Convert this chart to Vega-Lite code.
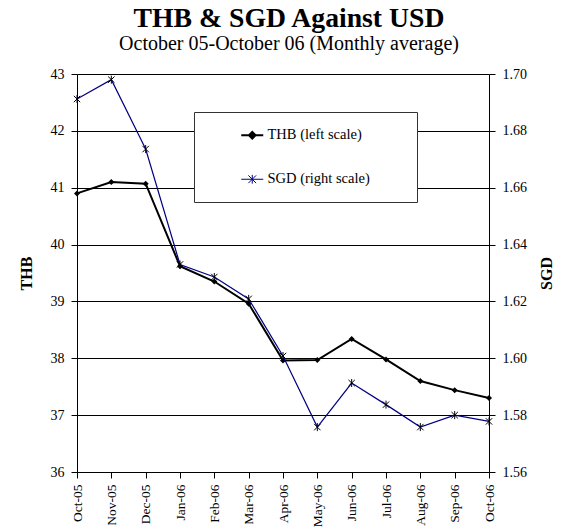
{
  "$schema": "https://vega.github.io/schema/vega-lite/v6.json",
  "autosize": {"type": "none"},
  "width": 412,
  "height": 398,
  "padding": {"left": 77, "top": 74, "right": 84, "bottom": 57},
  "background": "white",
  "title": {
    "text": "THB & SGD Against USD",
    "subtitle": "October  05-October  06 (Monthly average)",
    "font": "Liberation Serif",
    "fontSize": 27.7,
    "fontWeight": "bold",
    "color": "black",
    "subtitleFont": "Liberation Serif",
    "subtitleFontSize": 20,
    "subtitleColor": "black",
    "subtitlePadding": 1,
    "anchor": "middle",
    "dx": 6,
    "offset": 13.5
  },
  "config": {
    "view": {"stroke": null}
  },
  "data": {
    "values": [
      {"month": "Oct-05", "THB": 40.90, "SGD": 1.6912},
      {"month": "Nov-05", "THB": 41.10, "SGD": 1.6980},
      {"month": "Dec-05", "THB": 41.07, "SGD": 1.6736},
      {"month": "Jan-06", "THB": 39.62, "SGD": 1.6330},
      {"month": "Feb-06", "THB": 39.35, "SGD": 1.6286},
      {"month": "Mar-06", "THB": 38.96, "SGD": 1.6209},
      {"month": "Apr-06", "THB": 37.96, "SGD": 1.6008},
      {"month": "May-06", "THB": 37.97, "SGD": 1.5758},
      {"month": "Jun-06", "THB": 38.34, "SGD": 1.5913},
      {"month": "Jul-06", "THB": 37.98, "SGD": 1.5837},
      {"month": "Aug-06", "THB": 37.60, "SGD": 1.5758},
      {"month": "Sep-06", "THB": 37.44, "SGD": 1.5800},
      {"month": "Oct-06", "THB": 37.30, "SGD": 1.5778}
    ]
  },
  "encoding": {
    "x": {
      "field": "month",
      "type": "ordinal",
      "sort": null,
      "scale": {"type": "point", "padding": 0},
      "axis": {
        "title": null, "labelAngle": 270, "labelPadding": 6, "grid": false,
        "labelFont": "Liberation Serif", "labelFontSize": 13.5, "labelColor": "black",
        "domainColor": "black", "tickColor": "black", "tickSize": 6
      }
    }
  },
  "layer": [
    {
      "encoding": {
        "y": {
          "field": "THB",
          "type": "quantitative",
          "scale": {"domain": [36, 43], "nice": false, "zero": false},
          "axis": {
            "title": "THB", "values": [36, 37, 38, 39, 40, 41, 42, 43], "grid": true,
            "gridColor": "black", "gridOpacity": 1, "gridWidth": 1,
            "labelPadding": 7, "titlePadding": 16,
            "labelFont": "Liberation Serif", "labelFontSize": 14, "labelColor": "black",
            "titleFont": "Liberation Serif", "titleFontSize": 16, "titleFontWeight": "bold", "titleColor": "black",
            "domainColor": "black", "tickColor": "black", "tickSize": 6
          }
        }
      },
      "layer": [
        {
          "mark": {"type": "line", "strokeWidth": 2},
          "encoding": {
            "color": {
              "datum": "THB (left scale)",
              "type": "nominal",
              "scale": {"domain": ["THB (left scale)", "SGD (right scale)"], "range": ["black", "#000080"]},
              "legend": {
                "title": null,
                "orient": "none",
                "legendX": 117,
                "legendY": 38,
                "direction": "vertical",
                "fillColor": "white",
                "strokeColor": "#333333",
                "padding": 16,
                "symbolOffset": 35,
                "symbolSize": 484,
                "rowPadding": 28,
                "labelFont": "Liberation Serif",
                "labelFontSize": 14.5,
                "labelColor": "black",
                "labelOffset": 8,
                "labelLimit": 300,
                "encode": {
                  "symbols": {
                    "update": {
                      "shape": {"signal": "datum.value === 'THB (left scale)' ? 'M-1,0L1,0M0,-0.3L0.3,0L0,0.3L-0.3,0ZM13.1,0' : 'M-1,0L1,0M-0.35,-0.35L0.35,0.35M-0.35,0.35L0.35,-0.35M0,-0.4L0,0.4M13.1,0'"},
                      "fill": {"signal": "datum.value === 'THB (left scale)' ? 'black' : 'transparent'"},
                      "stroke": {"signal": "datum.value === 'THB (left scale)' ? 'black' : '#000080'"},
                      "strokeWidth": {"signal": "datum.value === 'THB (left scale)' ? 2 : 1"},
                      "opacity": {"value": 1}
                    }
                  }
                }
              }
            }
          }
        },
        {
          "mark": {"type": "point", "shape": "diamond", "filled": true, "color": "black", "size": 36, "opacity": 1}
        }
      ]
    },
    {
      "encoding": {
        "y": {
          "field": "SGD",
          "type": "quantitative",
          "scale": {"domain": [1.56, 1.70], "nice": false, "zero": false},
          "axis": {
            "title": "SGD", "orient": "right", "values": [1.56, 1.58, 1.60, 1.62, 1.64, 1.66, 1.68, 1.70],
            "format": ".2f", "grid": false, "labelPadding": 7, "titlePadding": 28, "titleAngle": 270,
            "labelFont": "Liberation Serif", "labelFontSize": 14, "labelColor": "black",
            "titleFont": "Liberation Serif", "titleFontSize": 16, "titleFontWeight": "bold", "titleColor": "black",
            "domainColor": "black", "tickColor": "black", "tickSize": 6
          }
        }
      },
      "layer": [
        {
          "mark": {"type": "line", "strokeWidth": 1.2},
          "encoding": {
            "color": {"datum": "SGD (right scale)", "type": "nominal"}
          }
        },
        {
          "mark": {"type": "point", "shape": "M-0.8,-0.8L0.8,0.8M-0.8,0.8L0.8,-0.8M0,-1L0,1", "filled": false, "stroke": "black", "strokeWidth": 1, "size": 64, "opacity": 1}
        }
      ]
    }
  ],
  "resolve": {"scale": {"y": "independent"}}
}
